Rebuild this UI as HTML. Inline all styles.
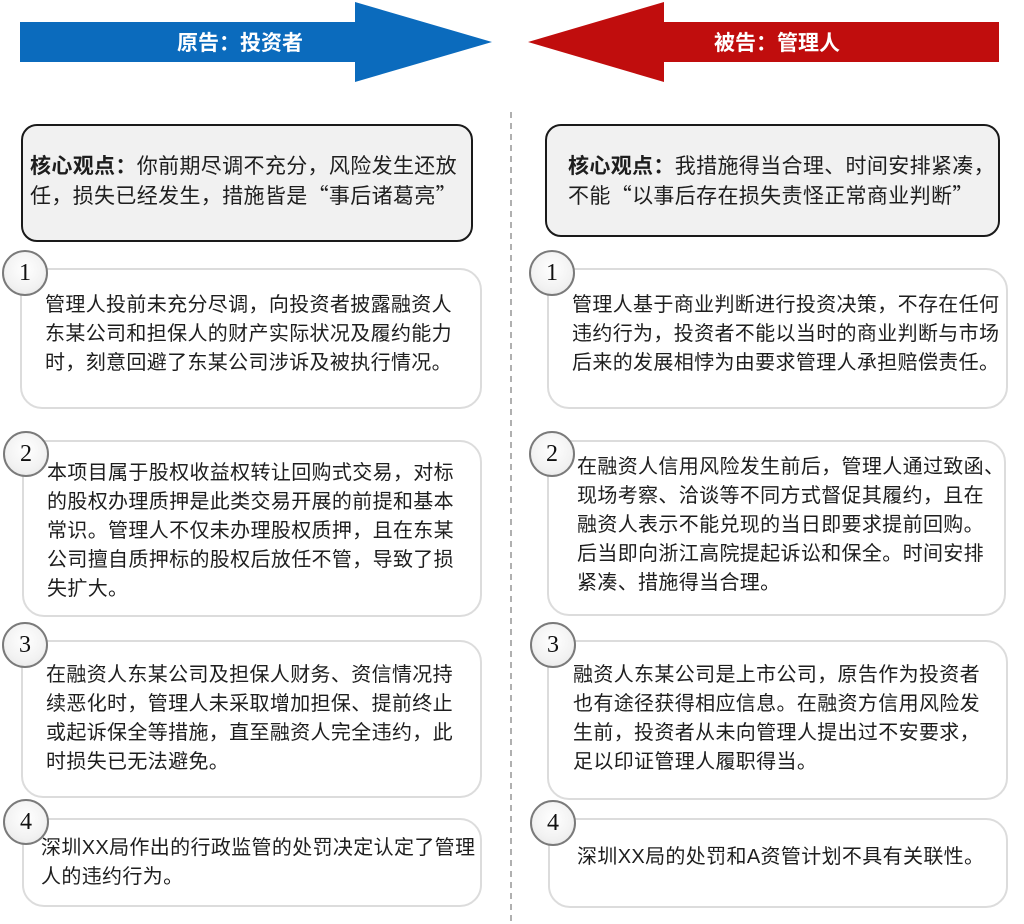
<!DOCTYPE html>
<html><head><meta charset="utf-8"><style>
body{margin:0;width:1024px;height:924px;background:#fff;position:relative;overflow:hidden;font-family:"Liberation Sans","Noto Sans CJK SC",sans-serif;color:#1e1e1e}
.a{position:absolute}
.q{font-family:"Noto Sans CJK SC",sans-serif}
.box{position:absolute;border:2px solid #dcdcdc;border-radius:22px;background:#fff;box-sizing:border-box}
.core{position:absolute;border:2px solid #1a1a1a;border-radius:16px;background:#f1f1f1;box-sizing:border-box}
.t{position:absolute;font-size:20px;line-height:29px;letter-spacing:0.35px;white-space:nowrap}
.c{position:absolute;width:46px;height:46px;border-radius:50%;border:2px solid #7a7a7a;box-sizing:border-box;background:radial-gradient(circle at 50% 40%,#fff 0%,#f2f2f2 60%,#e4e4e4 100%);font-family:"Liberation Serif",serif;font-size:24px;line-height:42px;text-align:center;color:#111}
</style></head><body>
<svg class="a" style="left:0;top:0" width="1024" height="924">
<polygon points="20,22 355,22 355,2 492,42 355,82 355,62 20,62" fill="#0b6bbd"/>
<polygon points="999,22 664,22 664,2 528,42 664,82 664,62 999,62" fill="#c00d0d"/>
<line x1="511" y1="112" x2="511" y2="924" stroke="#b0b0b0" stroke-width="2" stroke-dasharray="6,5"/>
<text x="240" y="50" fill="#fff" font-size="21" font-weight="bold" text-anchor="middle" font-family="Liberation Sans, Noto Sans CJK SC, sans-serif">原告：投资者</text>
<text x="777" y="50" fill="#fff" font-size="21" font-weight="bold" text-anchor="middle" font-family="Liberation Sans, Noto Sans CJK SC, sans-serif">被告：管理人</text>
</svg>

<div class="core" style="left:21px;top:124px;width:452px;height:118px"></div>
<div class="t" style="left:30px;top:152px;font-size:21px;line-height:29px"><b>核心观点：</b>你前期尽调不充分，风险发生还放<br>任，损失已经发生，措施皆是<span class="q">“</span>事后诸葛亮<span class="q">”</span></div>
<div class="core" style="left:545px;top:124px;width:455px;height:113px"></div>
<div class="t" style="left:568px;top:152px;font-size:21px;line-height:29px"><b>核心观点：</b>我措施得当合理、时间安排紧凑，<br>不能<span class="q">“</span>以事后存在损失责怪正常商业判断<span class="q">”</span></div>

<div class="box" style="left:20px;top:268px;width:462px;height:141px"></div>
<div class="c" style="left:2px;top:250px">1</div>
<div class="t" style="left:45px;top:291px">管理人投前未充分尽调，向投资者披露融资人<br>东某公司和担保人的财产实际状况及履约能力<br>时，刻意回避了东某公司涉诉及被执行情况。</div>

<div class="box" style="left:22px;top:440px;width:460px;height:177px"></div>
<div class="c" style="left:3px;top:431px">2</div>
<div class="t" style="left:47px;top:459px">本项目属于股权收益权转让回购式交易，对标<br>的股权办理质押是此类交易开展的前提和基本<br>常识。管理人不仅未办理股权质押，且在东某<br>公司擅自质押标的股权后放任不管，导致了损<br>失扩大。</div>

<div class="box" style="left:21px;top:640px;width:461px;height:158px"></div>
<div class="c" style="left:2px;top:622px">3</div>
<div class="t" style="left:46px;top:661px">在融资人东某公司及担保人财务、资信情况持<br>续恶化时，管理人未采取增加担保、提前终止<br>或起诉保全等措施，直至融资人完全违约，此<br>时损失已无法避免。</div>

<div class="box" style="left:22px;top:818px;width:460px;height:89px"></div>
<div class="c" style="left:3px;top:799px">4</div>
<div class="t" style="left:41px;top:834px">深圳XX局作出的行政监管的处罚决定认定了管理<br>人的违约行为。</div>

<div class="box" style="left:547px;top:268px;width:461px;height:141px"></div>
<div class="c" style="left:529px;top:250px">1</div>
<div class="t" style="left:572px;top:291px">管理人基于商业判断进行投资决策，不存在任何<br>违约行为，投资者不能以当时的商业判断与市场<br>后来的发展相悖为由要求管理人承担赔偿责任。</div>

<div class="box" style="left:547px;top:440px;width:459px;height:176px"></div>
<div class="c" style="left:529px;top:431px">2</div>
<div class="t" style="left:577px;top:453px">在融资人信用风险发生前后，管理人通过致函、<br>现场考察、洽谈等不同方式督促其履约，且在<br>融资人表示不能兑现的当日即要求提前回购。<br>后当即向浙江高院提起诉讼和保全。时间安排<br>紧凑、措施得当合理。</div>

<div class="box" style="left:547px;top:640px;width:461px;height:160px"></div>
<div class="c" style="left:530px;top:622px">3</div>
<div class="t" style="left:573px;top:661px">融资人东某公司是上市公司，原告作为投资者<br>也有途径获得相应信息。在融资方信用风险发<br>生前，投资者从未向管理人提出过不安要求，<br>足以印证管理人履职得当。</div>

<div class="box" style="left:548px;top:818px;width:460px;height:90px"></div>
<div class="c" style="left:530px;top:800px">4</div>
<div class="t" style="left:577px;top:843px">深圳XX局的处罚和A资管计划不具有关联性。</div>
</body></html>
